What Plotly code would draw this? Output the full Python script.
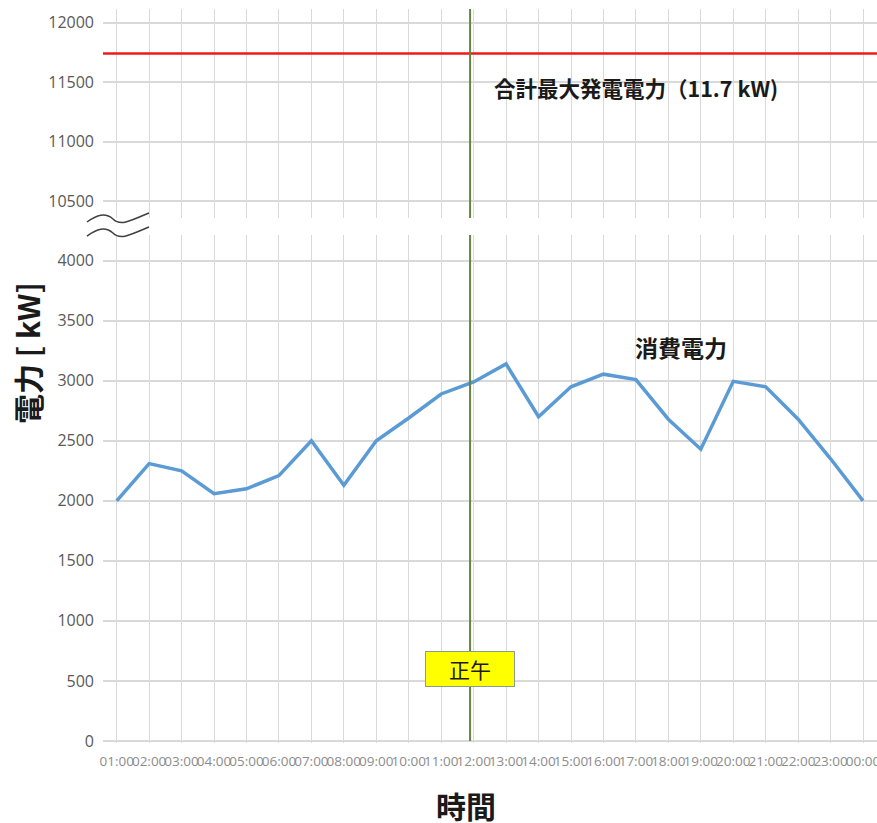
import plotly.graph_objects as go

hours = ["01:00", "02:00", "03:00", "04:00", "05:00", "06:00", "07:00", "08:00",
         "09:00", "10:00", "11:00", "12:00", "13:00", "14:00", "15:00", "16:00",
         "17:00", "18:00", "19:00", "20:00", "21:00", "22:00", "23:00", "00:00"]
consumption = [2000, 2310, 2250, 2060, 2100, 2210, 2500, 2130,
               2500, 2690, 2890, 2990, 3140, 2700, 2950, 3055,
               3010, 2680, 2430, 2995, 2950, 2680, 2350, 2000]
max_generation = 11740
low_ticks = [0, 500, 1000, 1500, 2000, 2500, 3000, 3500, 4000]
high_ticks = [10500, 11000, 11500, 12000]

idx = list(range(len(hours)))

W, H = 877, 823
L, R, T, B = 103, 0, 9, 80
PW, PH = W - L - R, H - T - B


def px(x, y):
    return (x - L) / PW, (H - B - y) / PH


xr = [-0.422, 23.43]

fig = go.Figure()
fig.add_trace(go.Scatter(x=idx, y=consumption, mode="lines",
                         line=dict(color="#5b9bd5", width=3.5),
                         xaxis="x", yaxis="y", showlegend=False))
fig.add_trace(go.Scatter(x=[xr[0] - 1, xr[1] + 1], y=[max_generation, max_generation],
                         mode="lines", line=dict(color="#f01a1a", width=2.5),
                         xaxis="x2", yaxis="y2", showlegend=False, hoverinfo="skip"))

grid = "#d9d9d9"
tickfont_y = dict(family="Open Sans", size=16, color="#595959")

fig.update_layout(
    width=W, height=H,
    margin=dict(l=L, r=R, t=T, b=B, autoexpand=False),
    paper_bgcolor="white", plot_bgcolor="white",
    xaxis=dict(domain=[0, 1], anchor="y", range=xr, tickmode="array",
               tickvals=idx, ticktext=hours, tickangle=0,
               tickfont=dict(family="Open Sans", size=13.5, color="#8c8c8c"),
               showgrid=True, gridcolor=grid, gridwidth=1, zeroline=False,
               showline=False, ticklabelstandoff=8, ticklabeloverflow="allow"),
    xaxis2=dict(domain=[0, 1], anchor="y2", range=xr, tickmode="array",
                tickvals=idx, showticklabels=False, showgrid=True,
                gridcolor=grid, gridwidth=1, zeroline=False, showline=False),
    yaxis=dict(domain=[0, px(0, 235)[1]], range=[-17, 4214], tickmode="array",
               tickvals=low_ticks, ticktext=[str(v) for v in low_ticks],
               tickfont=tickfont_y, showgrid=True,
               gridcolor=grid, gridwidth=1.5, zeroline=False, showline=False,
               ticklabelstandoff=8),
    yaxis2=dict(domain=[px(0, 218)[1], 1], range=[10357, 12115], tickmode="array",
                tickvals=high_ticks, ticktext=[str(v) for v in high_ticks],
                tickfont=tickfont_y, showgrid=True,
                gridcolor=grid, gridwidth=1.5, zeroline=False, showline=False,
                ticklabelstandoff=8),
)

noon = 10.89
green = "#62853f"
# noon line in both panels
fig.add_shape(type="line", xref="x", yref="y", x0=noon, x1=noon, y0=0, y1=4214,
              line=dict(color=green, width=2))
fig.add_shape(type="line", xref="x2", yref="y2", x0=noon, x1=noon, y0=10357, y1=12115,
              line=dict(color=green, width=2))


# axis break symbol
def wave(dy):
    pts = [(87, 222), (97, 215), (105, 212), (113, 219), (120, 226), (128, 222), (149, 213)]
    p = [px(x, y + dy) for x, y in pts]
    return (f"M {p[0][0]:.4f},{p[0][1]:.4f} C {p[1][0]:.4f},{p[1][1]:.4f} "
            f"{p[2][0]:.4f},{p[2][1]:.4f} {p[3][0]:.4f},{p[3][1]:.4f} "
            f"C {p[4][0]:.4f},{p[4][1]:.4f} {p[5][0]:.4f},{p[5][1]:.4f} {p[6][0]:.4f},{p[6][1]:.4f}")


for dy in (0, 14):
    fig.add_shape(type="path", xref="paper", yref="paper", path=wave(dy),
                  line=dict(color="#404040", width=1.5))

cjk = "Noto Sans CJK JP"
fig.add_annotation(xref="x2", yref="y2", x=11.57, y=11451, xanchor="left",
                   text="<b>合計最大発電電力（11.7 kW)</b>", showarrow=False,
                   font=dict(family=cjk, size=21.5, color="#1a1a1a"))
fig.add_annotation(xref="x", yref="y", x=17.39, y=3283,
                   text="<b>消費電力</b>", showarrow=False,
                   font=dict(family=cjk, size=23, color="#1a1a1a"))
fig.add_annotation(xref="x", yref="y", x=noon, y=600,
                   text="正午", showarrow=False, width=86, height=32,
                   bgcolor="#ffff00", bordercolor="#8c9c8c", borderwidth=1, borderpad=1,
                   font=dict(family=cjk, size=21, color="#1a1a1a"))
fig.add_annotation(xref="paper", yref="paper", x=px(3, 0)[0], y=px(0, 353)[1],
                   text="<b>電力 [ kW]</b>", textangle=-90, showarrow=False,
                   font=dict(family=cjk, size=30, color="#1a1a1a"))
fig.add_annotation(xref="paper", yref="paper", x=px(466, 0)[0], y=px(0, 829)[1],
                   text="<b>時間</b>", showarrow=False,
                   font=dict(family=cjk, size=30, color="#1a1a1a"))

fig.write_html("out.html")
